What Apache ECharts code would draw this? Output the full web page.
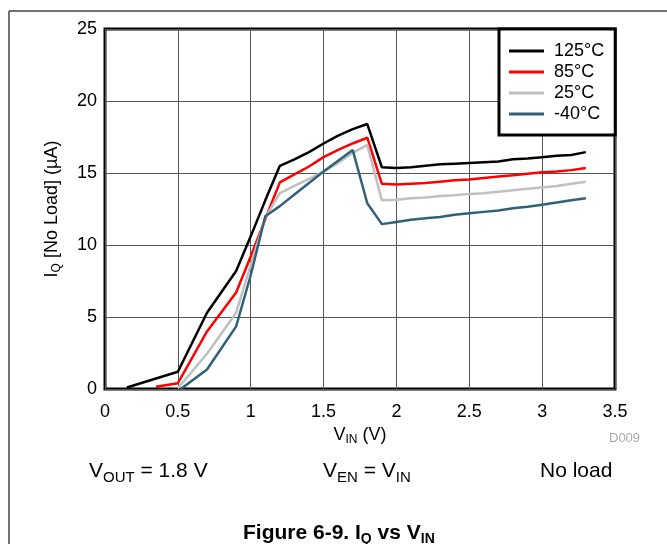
<!DOCTYPE html>
<html>
<head>
<meta charset="utf-8">
<script src="https://cdn.jsdelivr.net/npm/echarts@6/dist/echarts.min.js"></script>
<style>
html,body{margin:0;padding:0;background:#fff;}
#chart{width:667px;height:544px;}
</style>
</head>
<body>
<div id="chart"></div>
<script>
// ---- Data ----
const seriesNames = ['125°C', '85°C', '25°C', '-40°C'];

const vin125 = [0.15, 0.5, 0.7, 0.9, 1.0, 1.1, 1.2, 1.3, 1.4, 1.5, 1.6, 1.7, 1.8, 1.9, 2.0, 2.1, 2.2, 2.3, 2.4, 2.5, 2.6, 2.7, 2.8, 2.9, 3.0, 3.1, 3.2, 3.3];
const iq125  = [0.1, 1.2, 5.3, 8.2, 10.6, 13.1, 15.5, 15.95, 16.45, 17.05, 17.6, 18.05, 18.4, 15.4, 15.35, 15.4, 15.5, 15.6, 15.65, 15.7, 15.75, 15.8, 15.95, 16.0, 16.1, 16.2, 16.25, 16.45];

const vin85 = [0.35, 0.5, 0.7, 0.9, 1.0, 1.1, 1.2, 1.3, 1.4, 1.5, 1.6, 1.7, 1.8, 1.9, 2.0, 2.1, 2.2, 2.3, 2.4, 2.5, 2.6, 2.7, 2.8, 2.9, 3.0, 3.1, 3.2, 3.3];
const iq85  = [0.15, 0.4, 4.0, 6.7, 9.2, 11.8, 14.35, 14.9, 15.45, 16.1, 16.6, 17.05, 17.45, 14.25, 14.2, 14.25, 14.3, 14.4, 14.5, 14.55, 14.65, 14.75, 14.85, 14.95, 15.05, 15.1, 15.2, 15.35];

const vin25 = [0.5, 0.7, 0.9, 1.0, 1.1, 1.2, 1.3, 1.4, 1.5, 1.6, 1.7, 1.8, 1.9, 2.0, 2.1, 2.2, 2.3, 2.4, 2.5, 2.6, 2.7, 2.8, 2.9, 3.0, 3.1, 3.2, 3.3];
const iq25  = [0.05, 2.45, 5.3, 8.6, 11.9, 13.6, 14.1, 14.6, 15.1, 15.7, 16.4, 16.95, 13.1, 13.15, 13.25, 13.3, 13.4, 13.45, 13.55, 13.6, 13.7, 13.8, 13.9, 14.0, 14.1, 14.25, 14.4];

const vinM40 = [0.52, 0.7, 0.9, 1.0, 1.1, 1.2, 1.3, 1.4, 1.5, 1.6, 1.7, 1.8, 1.9, 2.0, 2.1, 2.2, 2.3, 2.4, 2.5, 2.6, 2.7, 2.8, 2.9, 3.0, 3.1, 3.2, 3.3];
const iqM40  = [0, 1.35, 4.35, 7.9, 12.0, 12.7, 13.5, 14.3, 15.1, 15.85, 16.6, 12.9, 11.45, 11.6, 11.75, 11.85, 11.95, 12.1, 12.2, 12.3, 12.4, 12.55, 12.65, 12.8, 12.95, 13.1, 13.25];

const xTicks = [0, 0.5, 1, 1.5, 2, 2.5, 3, 3.5];
const yTicks = [0, 5, 10, 15, 20, 25];

const colors = ['#000000', '#ff0000', '#c0c0c0', '#2f6178'];

function zip(xs, ys) { return xs.map((x, i) => [x, ys[i]]); }
const allX = [vin125, vin85, vin25, vinM40];
const allY = [iq125, iq85, iq25, iqM40];

const FONT = '"Liberation Sans", Arial, sans-serif';
const sub = (size, pad) => ({ fontSize: size, fontFamily: FONT, color: '#000', verticalAlign: 'bottom', padding: [pad, 0, 0, 0] });
const big = (size) => ({ fontSize: size, fontFamily: FONT, color: '#000', verticalAlign: 'top', lineHeight: size });

const chart = echarts.init(document.getElementById('chart'), null, { renderer: 'canvas' });

const option = {
  backgroundColor: '#fff',
  animation: false,
  grid: {
    left: 105, top: 29, right: 52, bottom: 155,
    show: true, borderColor: '#000', borderWidth: 3, backgroundColor: 'transparent'
  },
  legend: {
    orient: 'vertical',
    left: 499, top: 29,
    padding: [13, 11, 12, 10],
    itemGap: 3,
    itemWidth: 35,
    itemHeight: 3,
    icon: 'rect',
    backgroundColor: '#fff',
    borderColor: '#000',
    borderWidth: 3,
    borderRadius: 0,
    textStyle: { fontSize: 18, fontFamily: FONT, color: '#000', padding: [0, 0, 0, 5], lineHeight: 18 },
    data: seriesNames
  },
  xAxis: {
    type: 'value',
    min: xTicks[0], max: xTicks[xTicks.length - 1], interval: 0.5,
    axisLine: { show: false },
    axisTick: { show: false },
    splitLine: { show: true, lineStyle: { color: '#555', width: 1 } },
    axisLabel: { fontSize: 18, fontFamily: FONT, color: '#000', margin: 14 },
    name: '{b|V}{s|IN}{b| (V)}',
    nameLocation: 'middle',
    nameGap: 36,
    nameTextStyle: { rich: { b: big(18), s: sub(12, 8) } }
  },
  yAxis: {
    type: 'value',
    min: yTicks[0], max: yTicks[yTicks.length - 1], interval: 5,
    axisLine: { show: false },
    axisTick: { show: false },
    splitLine: { show: true, lineStyle: { color: '#555', width: 1 } },
    axisLabel: { fontSize: 18, fontFamily: FONT, color: '#000', margin: 8 },
    name: '{b|I}{s|Q}{b| [No Load] (µA)}',
    nameLocation: 'middle',
    nameRotate: 90,
    nameGap: 42,
    nameTextStyle: { rich: { b: big(18), s: sub(12, 8) } }
  },
  series: seriesNames.map((name, i) => ({
    name: name,
    type: 'line',
    symbol: 'none',
    data: zip(allX[i], allY[i]),
    color: colors[i],
    itemStyle: { color: colors[i] },
    lineStyle: { color: colors[i], width: 2.5 },
    z: 3 + i
  })),
  graphic: [
    { type: 'line', shape: { x1: 9, y1: 11, x2: 667, y2: 11 }, style: { stroke: '#444', lineWidth: 1.5 }, silent: true },
    { type: 'line', shape: { x1: 9, y1: 11, x2: 9, y2: 544 }, style: { stroke: '#444', lineWidth: 1.5 }, silent: true },
    { type: 'text', left: 609, top: 432, style: { text: 'D009', fontSize: 13, fontFamily: FONT, fill: '#aaa' } },
    { type: 'text', left: 89, top: 461,
      style: { text: '{b|V}{s|OUT}{b| = 1.8 V}', rich: { b: big(21), s: sub(15, 9) } } },
    { type: 'text', left: 323, top: 461,
      style: { text: '{b|V}{s|EN}{b| = V}{s|IN}', rich: { b: big(21), s: sub(15, 9) } } },
    { type: 'text', left: 540, top: 461,
      style: { text: '{b|No load}', rich: { b: big(21) } } },
    { type: 'text', left: 243, top: 523,
      style: { text: '{b|Figure 6-9. I}{s|Q}{b| vs V}{s|IN}',
        rich: { b: Object.assign(big(21), { fontWeight: 'bold' }), s: Object.assign(sub(14, 9), { fontWeight: 'bold' }) } } }
  ]
};
chart.setOption(option);
</script>
</body>
</html>
